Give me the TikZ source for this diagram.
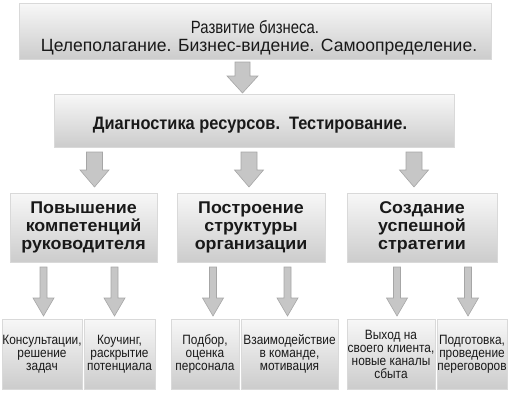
\documentclass[tikz,border=0pt]{standalone}
\usepackage{fontspec}
\setmainfont{Liberation Sans}
\newfontfamily\fontA{Liberation Sans}[FakeStretch=0.84]
\newfontfamily\fontB{Liberation Sans}[FakeStretch=0.99]
\newfontfamily\fontC{Liberation Sans}[FakeStretch=0.91]
\newfontfamily\fontD{Liberation Sans}[FakeStretch=1.05]
\newfontfamily\fontE{Liberation Sans}[FakeStretch=0.88]
\begin{document}
\begin{tikzpicture}[x=1pt,y=-1pt,
  box/.style={draw=gray!30, line width=0.6pt, top color=gray!6, bottom color=gray!40,
     inner sep=0pt, align=center, text=black!90},
  lbl/.style={inner sep=0pt, anchor=base, text=black!90},
  midtxt/.style={font=\fontD\bfseries\fontsize{17}{18}\selectfont},
  smalltxt/.style={font=\fontE\fontsize{13.5}{13}\selectfont},
  blockarrow/.style={fill=gray!45, draw=gray!70, line width=0.6pt, line join=miter}]
\useasboundingbox (0,0) rectangle (510,400);

\newcommand\dnarrow[6]{% x, ytop, ytip, shaft, head, headlen
  \draw[blockarrow] (#1-#4/2,#2) -- (#1+#4/2,#2) -- (#1+#4/2,#3-#6) -- (#1+#5/2,#3-#6)
     -- (#1,#3) -- (#1-#5/2,#3-#6) -- (#1-#4/2,#3-#6) -- cycle;}

\node[box, minimum width=472, minimum height=56] (top) at (255,31) {};
\node[lbl, font=\fontA\fontsize{17.7}{17}\selectfont] (topl1) at (255,33) {Развитие бизнеса.};
\node[lbl, font=\fontB\fontsize{17.7}{17}\selectfont] (topl2) at (259,51) {Целеполагание. Бизнес-видение. Самоопределение.};

\node[box, minimum width=400, minimum height=53] (diag) at (254,120.5) {};
\node[lbl, font=\fontC\bfseries\fontsize{18}{20}\selectfont] (diagl) at (250,129) {Диагностика ресурсов.\ \ Тестирование.};

\node[box, midtxt, minimum width=147, minimum height=69] (r1) at (83.5,227.5)
  {Повышение\\компетенций\\руководителя};
\node[box, midtxt, minimum width=148, minimum height=69] (r2) at (251,227.5)
  {Построение\\структуры\\организации};
\node[box, midtxt, minimum width=150, minimum height=69] (r3) at (422,227.5)
  {Создание\\успешной\\стратегии};

\node[box, smalltxt, minimum width=80, minimum height=70] (b1) at (42,354)
  {Консультации,\\решение\\задач};
\node[box, smalltxt, minimum width=71, minimum height=70] (b2) at (119.5,354)
  {Коучинг,\\раскрытие\\потенциала};
\node[box, smalltxt, minimum width=68, minimum height=70] (b3) at (205,354)
  {Подбор,\\оценка\\персонала};
\node[box, smalltxt, minimum width=97, minimum height=70] (b4) at (289.5,354)
  {Взаимодействие\\в команде,\\мотивация};
\node[box, smalltxt, minimum width=88, minimum height=70] (b5) at (391,354)
  {Выход на\\своего клиента,\\новые каналы\\сбыта};
\node[box, smalltxt, minimum width=70, minimum height=70] (b6) at (472,354)
  {Подготовка,\\проведение\\переговоров};

\dnarrow{242.5}{62}{93}{15}{31}{17}
\dnarrow{94.5}{152}{187}{16}{29}{17}
\dnarrow{249}{152}{187}{16}{29}{17}
\dnarrow{414}{152}{187}{16}{29}{17}
\dnarrow{43.5}{267}{316}{7}{21}{18}
\dnarrow{114.5}{267}{316}{7}{21}{18}
\dnarrow{213}{267}{316}{7}{21}{18}
\dnarrow{287.5}{267}{316}{7}{21}{18}
\dnarrow{397}{267}{316}{7}{21}{18}
\dnarrow{468}{267}{316}{7}{21}{18}
\end{tikzpicture}
\end{document}
